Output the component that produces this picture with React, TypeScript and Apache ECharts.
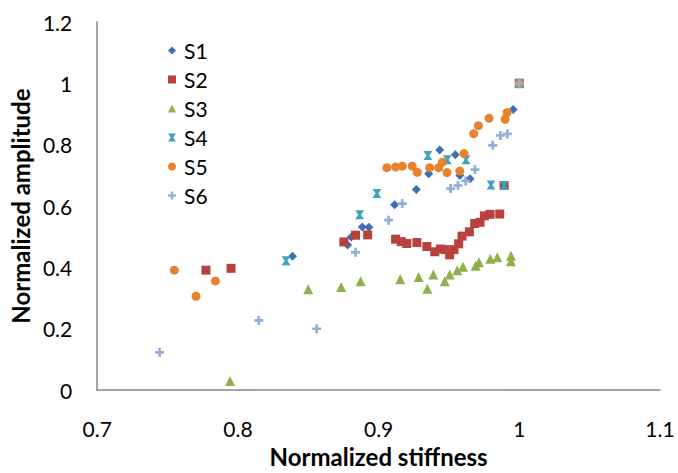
import React, { useEffect, useRef } from "react";
import * as echarts from "echarts";

// Normalized stiffness (x) and normalized amplitude (y) for each specimen
const s1X = [0.8388, 0.878, 0.8805, 0.8884, 0.8931, 0.9114, 0.9268, 0.9356, 0.9434, 0.9545, 0.9577, 0.965, 0.9956, 1.0];
const s1Y = [0.436, 0.473, 0.499, 0.532, 0.531, 0.604, 0.654, 0.705, 0.783, 0.767, 0.7, 0.689, 0.915, 1.0];

const s2X = [0.7773, 0.7951, 0.8753, 0.8836, 0.8922, 0.9121, 0.9161, 0.92, 0.9272, 0.9343, 0.9399, 0.9439, 0.9474, 0.9505, 0.9536, 0.9569, 0.9593, 0.9645, 0.9683, 0.9721, 0.9752, 0.9792, 0.9861, 0.9892, 1.0];
const s2Y = [0.391, 0.397, 0.483, 0.505, 0.506, 0.492, 0.484, 0.478, 0.481, 0.468, 0.451, 0.46, 0.458, 0.441, 0.458, 0.477, 0.502, 0.516, 0.543, 0.547, 0.568, 0.573, 0.574, 0.667, 1.0];

const s3X = [0.7944, 0.85, 0.8734, 0.8872, 0.9154, 0.9285, 0.9346, 0.9389, 0.947, 0.9505, 0.9559, 0.96, 0.969, 0.9713, 0.9794, 0.9844, 0.9941, 0.9941, 1.0];
const s3Y = [0.03, 0.329, 0.336, 0.355, 0.361, 0.369, 0.33, 0.377, 0.355, 0.377, 0.391, 0.402, 0.405, 0.417, 0.428, 0.433, 0.438, 0.42, 1.0];

const s4X = [0.8342, 0.8865, 0.8988, 0.935, 0.9488, 0.9621, 0.9799, 0.9892, 1.0];
const s4Y = [0.422, 0.572, 0.641, 0.765, 0.751, 0.751, 0.669, 0.667, 1.0];

const s5X = [0.7548, 0.7702, 0.784, 0.9059, 0.9121, 0.9168, 0.9239, 0.9275, 0.9363, 0.9427, 0.9453, 0.9486, 0.9577, 0.9607, 0.9676, 0.9709, 0.9785, 0.9899, 0.9913, 1.0];
const s5Y = [0.391, 0.306, 0.356, 0.725, 0.727, 0.73, 0.73, 0.71, 0.725, 0.725, 0.743, 0.709, 0.714, 0.771, 0.836, 0.862, 0.886, 0.883, 0.905, 1.0];

const s6X = [0.7443, 0.8148, 0.856, 0.8836, 0.9071, 0.9168, 0.9512, 0.9564, 0.9619, 0.9685, 0.9811, 0.9866, 0.9915, 1.0];
const s6Y = [0.123, 0.227, 0.2, 0.449, 0.554, 0.608, 0.657, 0.667, 0.682, 0.719, 0.798, 0.83, 0.835, 1.0];

const seriesNames = ["S1", "S2", "S3", "S4", "S5", "S6"];
const seriesColors = ["#3f6fb0", "#b8413e", "#8fb04a", "#3ea3bf", "#e9822e", "#93afd8"];

const xTicks = ["0.7", "0.8", "0.9", "1", "1.1"];

// Hourglass-style cross and plus marker outlines
const crossPath = "path://M0,0 L10,0 L6.5,5 L10,10 L0,10 L3.5,5 Z";
const plusPath = "path://M3.5,0 L6.5,0 L6.5,3.5 L10,3.5 L10,6.5 L6.5,6.5 L6.5,10 L3.5,10 L3.5,6.5 L0,6.5 L0,3.5 L3.5,3.5 Z";

const seriesSymbols = ["diamond", "rect", "triangle", crossPath, "circle", plusPath];
const seriesSizes = [9, 9, 10, 9, 9, 9];

const zip = (xs: number[], ys: number[]) => xs.map((x, i) => [x, ys[i]]);
const allData = [zip(s1X, s1Y), zip(s2X, s2Y), zip(s3X, s3Y), zip(s4X, s4Y), zip(s5X, s5Y), zip(s6X, s6Y)];

const FONT = "Lato, 'Open Sans', sans-serif";

export default function App() {
  const ref = useRef<HTMLDivElement>(null);

  useEffect(() => {
    document.body.style.margin = "0";
    if (!ref.current) return;
    const chart = echarts.init(ref.current, null, { renderer: "svg", width: 678, height: 473 });
    chart.setOption({
      animation: false,
      backgroundColor: "#ffffff",
      grid: { left: 97, right: 18, top: 22, bottom: 76, containLabel: false },
      legend: {
        orient: "vertical",
        left: 163,
        top: 35,
        itemGap: 8,
        itemWidth: 8,
        itemHeight: 8,
        data: seriesNames,
        textStyle: { fontFamily: FONT, fontSize: 21, color: "#000", padding: [0, 0, 0, 3] },
      },
      xAxis: {
        type: "value",
        min: 0.7,
        max: 1.1,
        interval: 0.1,
        name: "Normalized stiffness",
        nameLocation: "middle",
        nameGap: 50,
        nameTextStyle: { fontFamily: FONT, fontSize: 24, fontWeight: "bold", color: "#000" },
        axisLine: { show: true, lineStyle: { color: "#888", width: 1.5 } },
        axisTick: { show: false },
        splitLine: { show: false },
        axisLabel: {
          fontFamily: FONT,
          fontSize: 21,
          color: "#000",
          margin: 28,
          formatter: (v: number) => xTicks[Math.round((v - 0.7) * 10)] ?? "",
        },
      },
      yAxis: {
        type: "value",
        min: 0,
        max: 1.2,
        interval: 0.2,
        name: "Normalized amplitude",
        nameLocation: "middle",
        nameGap: 55,
        nameTextStyle: { fontFamily: FONT, fontSize: 24, fontWeight: "bold", color: "#000" },
        axisLine: { show: true, lineStyle: { color: "#888", width: 1.5 } },
        axisTick: { show: false },
        splitLine: { show: false },
        axisLabel: {
          fontFamily: FONT,
          fontSize: 21,
          color: "#000",
          margin: 25,
          padding: [4, 0, 0, 0],
          formatter: (v: number) => String(Math.round(v * 10) / 10),
        },
      },
      series: seriesNames.map((name, i) => ({
        name,
        type: "scatter",
        symbol: seriesSymbols[i],
        symbolSize: seriesSizes[i],
        itemStyle: { color: seriesColors[i], opacity: 1 },
        data: allData[i],
      })),
    });
    return () => chart.dispose();
  }, []);

  return (
    <div
      ref={ref}
      style={{ position: "fixed", left: 0, top: 0, width: 678, height: 473, background: "#fff" }}
    />
  );
}
